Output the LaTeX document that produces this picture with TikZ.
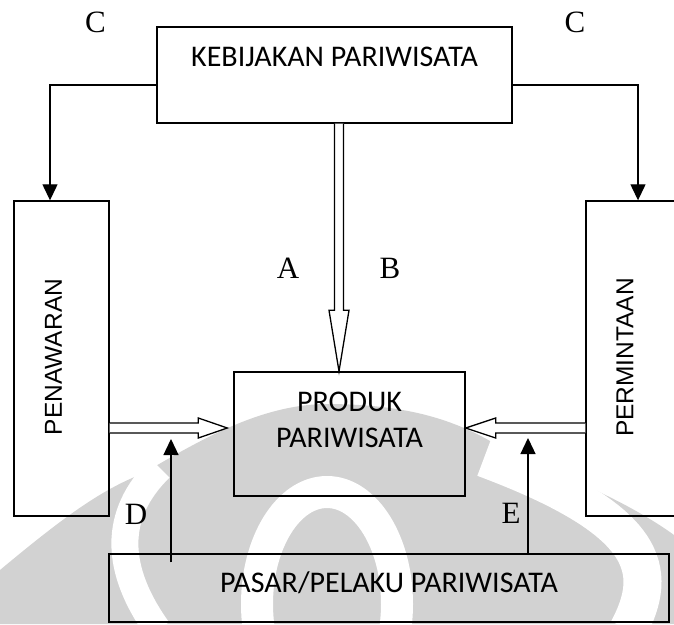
\documentclass[tikz,border=0pt]{standalone}
\usepackage{fontspec}
\setmainfont{Liberation Serif}
\newfontfamily\boxfont{Carlito}
\newfontfamily\sidefont{Liberation Sans}
\usetikzlibrary{arrows.meta,calc}

\definecolor{wmgray}{RGB}{210,210,210}

\tikzset{
  frame/.style={draw, line width=1.4pt, inner sep=0pt, fill=none},
  boxtext/.style={font=\boxfont\fontsize{30}{36.5}\selectfont, align=center, inner sep=0pt},
  sidetext/.style={font=\sidefont\fontsize{24.5}{28}\selectfont, rotate=90, inner sep=0pt},
  letter/.style={font=\fontsize{31}{34}\selectfont, inner sep=0pt},
  conn/.style={line width=1.3pt, -{Triangle[length=16pt,width=15pt]}},
  hollow/.style={draw, line width=1.3pt, line join=miter, fill=white},
}

\begin{document}
\begin{tikzpicture}[x=1pt,y=-1pt]
\useasboundingbox (0,0) rectangle (674,624);

% faint seal in the background
\fill[wmgray] (0,570) .. controls (60,520) and (100,490) .. (142,474)
  .. controls (200,440) and (260,405) .. (325,404)
  .. controls (420,404) and (470,425) .. (520,460)
  .. controls (580,480) and (640,510) .. (674,535) -- (674,624) -- (0,624) -- cycle;
\draw[white, line width=27pt] (158,630) .. controls (115,570) and (112,515) .. (160,468);
\draw[white, line width=38pt] (628,630) .. controls (660,570) and (650,520) .. (484,458);
\draw[white, line width=32pt] (327,604) ellipse [x radius=70, y radius=112];

% boxes
\node[frame, minimum width=355pt, minimum height=96pt] (keb) at (334.5,75) {};
\node[frame, minimum width=95pt, minimum height=315pt] (pen) at (61.5,358.5) {};
\node[frame, minimum width=95pt, minimum height=315pt] (perm) at (633.5,358.5) {};
\node[frame, minimum width=231pt, minimum height=124pt] (prod) at (349.5,434) {};
\node[frame, minimum width=560pt, minimum height=68pt] (pas) at (389,588) {};

% box texts
\node[boxtext] (kebtext) at (334.5,57) {KEBIJAKAN PARIWISATA};
\node[boxtext] (prodtext) at (349.5,420) {PRODUK\\PARIWISATA};
\node[boxtext] (pastext) at (389,583) {PASAR/PELAKU PARIWISATA};
\node[sidetext] (pentext) at (53.5,357) {PENAWARAN};
\node[sidetext] (permtext) at (625,357.5) {PERMINTAAN};

% policy lines to supply and demand
\draw[conn] ([yshift=-10pt]keb.west) -| ([xshift=-11.5pt]pen.north);
\draw[conn] ([yshift=-10pt]keb.east) -| ([xshift=4.5pt]perm.north);

% hollow arrow from policy to product
\coordinate (ks) at ([xshift=4.5pt]keb.south);
\coordinate (pt) at (ks |- prod.north);
\path[hollow] ($(ks)+(-4.5,0)$) -- ($(pt)+(-4.5,-61)$) -- ($(pt)+(-10,-61)$) -- (pt)
  -- ($(pt)+(10,-61)$) -- ($(pt)+(4.5,-61)$) -- ($(ks)+(4.5,0)$);

% hollow arrow from supply to product
\coordinate (lt) at ([xshift=-6pt,yshift=6pt]prod.west);
\coordinate (ls) at (pen.east |- lt);
\path[hollow] ($(ls)+(0,-5)$) -- ($(lt)+(-29,-5)$) -- ($(lt)+(-29,-10)$) -- (lt)
  -- ($(lt)+(-29,10)$) -- ($(lt)+(-29,5)$) -- ($(ls)+(0,5)$);

% hollow arrow from demand to product
\coordinate (rt) at ([yshift=6pt]prod.east);
\coordinate (rs) at (perm.west |- rt);
\path[hollow] ($(rs)+(0,-5)$) -- ($(rt)+(30,-5)$) -- ($(rt)+(30,-10)$) -- (rt)
  -- ($(rt)+(30,10)$) -- ($(rt)+(30,5)$) -- ($(rs)+(0,5)$);

% market arrows
\coordinate (dlevel) at ([yshift=-5pt]prod.west);
\coordinate (elevel) at ([yshift=-4pt]prod.east);
\coordinate (ds) at ([xshift=-218pt,yshift=-9pt]pas.north);
\draw[conn] (ds) -- (ds |- dlevel);
\coordinate (es) at ([xshift=139pt]pas.north);
\draw[conn] (es) -- (es |- elevel);

% letters
\node[letter] (c1) at (95.5,22.5) {C};
\node[letter] (c2) at (575,22.5) {C};
\node[letter] (la) at (288,268) {A};
\node[letter] (lb) at (390,268) {B};
\node[letter] (ld) at (136,514) {D};
\node[letter] (le) at (511,513) {E};
\end{tikzpicture}
\end{document}
